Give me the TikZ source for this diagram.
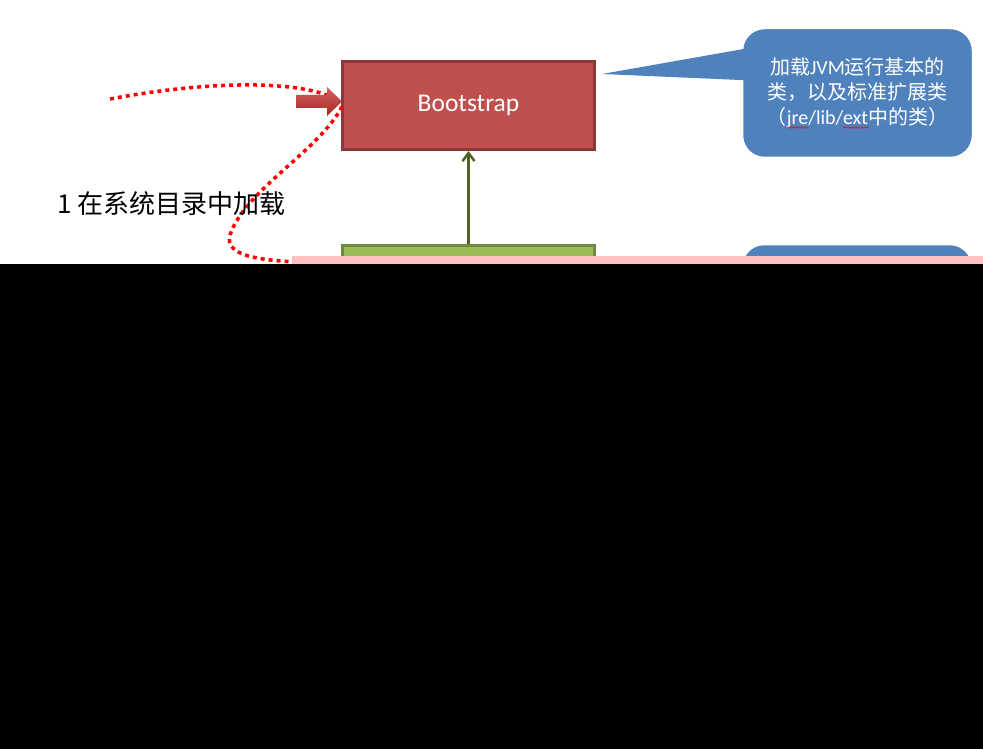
\documentclass[tikz,border=0pt]{standalone}
\usepackage{fontspec}
\setmainfont{Carlito}
\newfontfamily\cjk{Noto Sans CJK SC}
\usetikzlibrary{arrows.meta, positioning, calc, shadows, decorations.pathmorphing}
\definecolor{bootRed}{RGB}{192,80,77}
\definecolor{bootEdge}{RGB}{140,56,54}
\definecolor{extGreen}{RGB}{155,187,89}
\definecolor{extEdge}{RGB}{113,137,63}
\definecolor{linkOlive}{RGB}{79,98,40}
\definecolor{noteBlue}{RGB}{79,129,189}
\definecolor{stripPink}{RGB}{255,192,192}
\definecolor{pushTop}{RGB}{212,96,92}
\definecolor{pushBot}{RGB}{165,40,38}
\tikzset{
  cl/loader/.style={rectangle, minimum width=252pt, minimum height=88pt,
    line width=3pt, inner sep=0pt},
  cl/boot/.style={cl/loader, fill=bootRed, draw=bootEdge,
    font=\fontsize{25.5}{30}\selectfont\color{white}},
  cl/ext/.style={cl/loader, fill=extGreen, draw=extEdge},
  cl/note/.style={rectangle, rounded corners=23pt, fill=noteBlue, draw=white,
    line width=3.5pt, minimum width=232pt, minimum height=131pt, align=center,
    font=\fontsize{20}{25}\selectfont\color{white},
    drop shadow={opacity=0.25, shadow xshift=1pt, shadow yshift=-1.5pt}},
  cl/tail/.style={fill=noteBlue},
  cl/link/.style={-{Straight Barb[length=8pt,width=12pt]}, line width=2.5pt,
    draw=linkOlive},
  cl/trace/.style={draw=red, line width=3.5pt, dash pattern=on 4pt off 4pt},
  cl/spell/.style={draw=red, line width=0.6pt, decorate,
    decoration={snake, amplitude=0.8pt, segment length=3pt}},
  cl/lbl/.style={font=\cjk\fontsize{26}{30}\selectfont, inner sep=0pt,
    anchor=west}
}
\begin{document}
\begin{tikzpicture}[x=1pt, y=-1pt]
  \useasboundingbox (0,0) rectangle (983,749);
  \fill[white] (0,0) rectangle (983,749);

  \node[cl/boot] (boot) at (468.5,105.5) {Bootstrap};
  \node[cl/ext, below=93pt of boot] (ext) {};
  \draw[cl/link] (ext) -- (boot);

  % callout next to Bootstrap
  \coordinate (tip1) at (602,74);
  \draw[white, line width=4pt, line join=round, cl/tail] (tip1) -- (750,47)
        -- (750,81) -- cycle;
  \node[cl/note] (note1) at (857.5,93) {{\cjk 加载}JVM{\cjk 运行基本的}\\
    {\cjk 类，以及标准扩展类}\\
    {\cjk （}jre/lib/ext{\cjk 中的类）}};
  \fill[cl/tail] (tip1) -- (752,47.5) -- (752,80.5) -- cycle;
  \draw[cl/spell] ($(note1.center)+(-71,34.5)$) -- ++(21.5,0);
  \draw[cl/spell] ($(note1.center)+(-14.5,34.5)$) -- ++(25.5,0);
  \node[cl/note] (note2) at (857,309) {};

  % dotted traces and push arrow
  \coordinate (src) at (110,99);
  \coordinate (sink) at (296,262);
  \draw[cl/trace] (src) .. controls (200,82) and (300,78)
        .. ($(boot.west)+(-2,-5)$);
  \shade[top color=pushTop, bottom color=pushBot] (296,95) -- (327,95)
        -- (327,87) -- (342,101.5) -- (327,116) -- (327,108) -- (296,108)
        -- cycle;
  \draw[cl/trace] ($(boot.west)+(1,1)$) .. controls (320,150) and (245,190)
        .. (230,235) .. controls (224,256) and (260,260) .. (sink);

  \node[cl/lbl] (lbl1) at (57,204) {1 在系统目录中加载};

  \fill[stripPink] (292,256) rectangle (983,264);
  \fill[black] (0,264) rectangle (983,749);
\end{tikzpicture}
\end{document}
